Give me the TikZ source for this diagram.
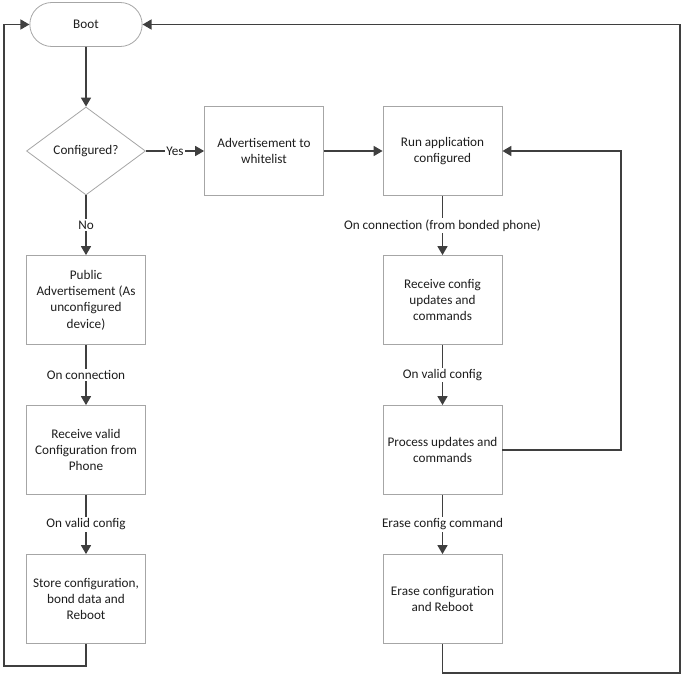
\documentclass[tikz,border=0pt]{standalone}
\usepackage{fontspec}
\setmainfont{Carlito}
\usetikzlibrary{shapes.geometric,shapes.misc,arrows.meta}
\definecolor{linec}{HTML}{3F3F3F}
\definecolor{boxc}{HTML}{A6A6A6}
\definecolor{txtc}{HTML}{1E1E1E}
\begin{document}
\begin{tikzpicture}[x=1pt,y=-1pt,
  font=\fontsize{13.2}{16.3}\selectfont, text=txtc,
  box/.style={draw=boxc, line width=0.8pt, fill=white, minimum width=119pt, minimum height=89pt, align=center, inner sep=2pt},
  term/.style={draw=boxc, line width=0.8pt, fill=white, rounded rectangle, minimum width=119pt, minimum height=44pt},
  dec/.style={draw=boxc, line width=0.8pt, fill=white, diamond, minimum width=119pt, minimum height=88pt, aspect=1.35, inner sep=0pt},
  conn/.style={draw=linec, line width=1.6pt, -{Triangle[length=9pt,width=10pt]}},
  lbl/.style={fill=white, inner sep=1.5pt}]
\useasboundingbox (0,0) rectangle (688,682);
\node[term] (boot) at (86,24.5) {Boot};
\node[dec] (cfg) at (86,151) {Configured?};
\node[box] (adv) at (264,151) {Advertisement to\\whitelist};
\node[box] (run) at (442.5,151) {Run application\\configured};
\node[box] (pub) at (86,300) {Public\\Advertisement (As\\unconfigured\\device)};
\node[box] (recv) at (86,450) {Receive valid\\Configuration from\\Phone};
\node[box] (store) at (86,599) {Store configuration,\\bond data and\\Reboot};
\node[box] (rcu) at (442.5,300) {Receive config\\updates and\\commands};
\node[box] (proc) at (442.5,450) {Process updates and\\commands};
\node[box] (erase) at (442.5,599) {Erase configuration\\and Reboot};
\coordinate (lb) at (4,666);
\coordinate (rb) at (680,673);
\coordinate (pr) at (621,151);
\draw[conn] (boot) -- (cfg);
\draw[conn] (cfg.east) -- node[lbl]{Yes} (adv.west);
\draw[conn] (cfg.south) -- node[lbl, pos=0.5]{No} (pub.north);
\draw[conn] (pub) -- node[lbl]{On connection} (recv);
\draw[conn] (recv) -- node[lbl]{On valid config} (store);
\draw[conn] (store.south) |- (lb) |- (boot.west);
\draw[conn] (adv) -- (run);
\draw[conn] (run) -- node[lbl]{On connection (from bonded phone)} (rcu);
\draw[conn] (rcu) -- node[lbl]{On valid config} (proc);
\draw[conn] (proc.east) -| (pr) -- (run.east);
\draw[conn] (proc) -- node[lbl]{Erase config command} (erase);
\draw[conn] (erase.south) |- (rb) |- (boot.east);
\end{tikzpicture}
\end{document}
